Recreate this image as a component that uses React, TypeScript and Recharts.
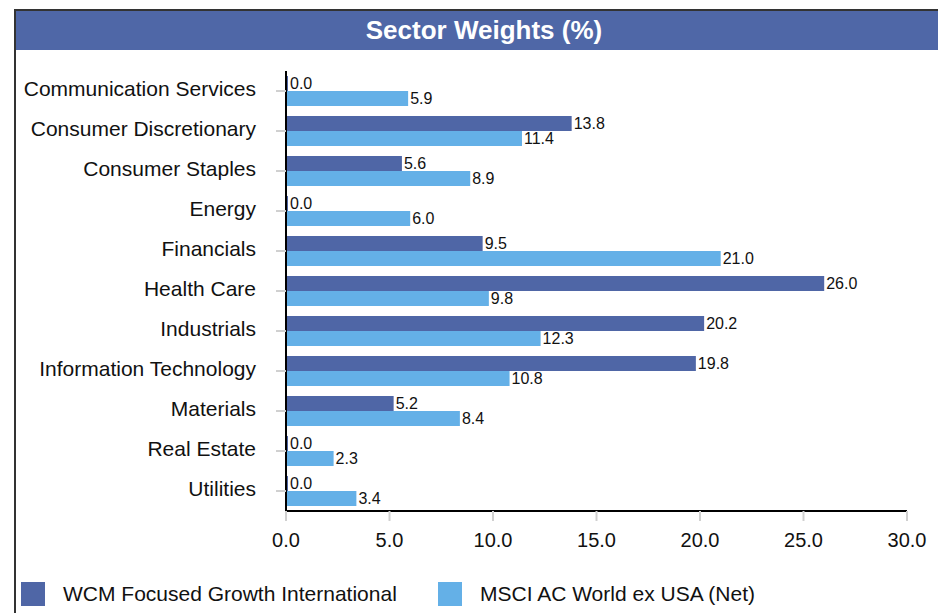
import { BarChart, Bar, XAxis, YAxis, LabelList } from "recharts";

const sectors = [
  "Communication Services",
  "Consumer Discretionary",
  "Consumer Staples",
  "Energy",
  "Financials",
  "Health Care",
  "Industrials",
  "Information Technology",
  "Materials",
  "Real Estate",
  "Utilities",
];

const fundWeights = [0.0, 13.8, 5.6, 0.0, 9.5, 26.0, 20.2, 19.8, 5.2, 0.0, 0.0];
const benchWeights = [5.9, 11.4, 8.9, 6.0, 21.0, 9.8, 12.3, 10.8, 8.4, 2.3, 3.4];

const xTicks = [0, 5, 10, 15, 20, 25, 30];

const series = [
  { key: "fund", name: "WCM Focused Growth International", color: "#4F66A6" },
  { key: "bench", name: "MSCI AC World ex USA (Net)", color: "#64B0E7" },
];

const data = sectors.map((s, i) => ({
  sector: s,
  fund: fundWeights[i],
  bench: benchWeights[i],
}));

const font = "'Liberation Sans', Arial, sans-serif";

export default function App() {
  return (
    <div
      style={{
        position: "absolute",
        left: 0,
        top: 0,
        width: 938,
        height: 613,
        background: "#fff",
        overflow: "hidden",
        fontFamily: font,
      }}
    >
      {/* frame */}
      <div
        style={{
          position: "absolute",
          left: 14,
          top: 9,
          width: 940,
          height: 620,
          borderLeft: "2px solid #333",
          borderTop: "2px solid #333",
        }}
      />
      {/* title bar */}
      <div
        style={{
          position: "absolute",
          left: 16,
          top: 11,
          width: 922,
          height: 39,
          background: "#4F67A7",
        }}
      />
      <div
        style={{
          position: "absolute",
          left: 284,
          top: 11,
          width: 400,
          height: 39,
          lineHeight: "39px",
          textAlign: "center",
          color: "#fff",
          fontWeight: "bold",
          fontSize: 26,
        }}
      >
        Sector Weights (%)
      </div>

      <div style={{ position: "absolute", left: 0, top: 0 }}>
        <BarChart
          width={938}
          height={613}
          data={data}
          layout="vertical"
          margin={{ top: 71, right: 31, bottom: 62, left: 0 }}
          barCategoryGap={5}
          barGap={0}
        >
          <XAxis
            type="number"
            domain={[0, 30]}
            ticks={xTicks}
            height={40}
            axisLine={{ stroke: "#000", strokeWidth: 2 }}
            tickLine={{ stroke: "#d0d0d0", strokeWidth: 2 }}
            tickSize={10}
            tickMargin={12}
            tick={{ fill: "#111", fontSize: 20, fontFamily: font }}
            tickFormatter={(v: number) => v.toFixed(1)}
          />
          <YAxis
            type="category"
            dataKey="sector"
            width={286}
            axisLine={{ stroke: "#000", strokeWidth: 2 }}
            tickLine={{ stroke: "#d0d0d0", strokeWidth: 2 }}
            tickSize={10}
            tickMargin={20}
            tick={{ fill: "#111", fontSize: 21, fontFamily: font, dy: -2 }}
            interval={0}
          />
          {series.map((s) => (
            <Bar
              key={s.key}
              dataKey={s.key}
              name={s.name}
              fill={s.color}
              minPointSize={2}
              isAnimationActive={false}
            >
              <LabelList
                dataKey={s.key}
                position="right"
                offset={2}
                fill="#111"
                fontSize={16}
                fontFamily={font}
                formatter={(v: number) => Number(v).toFixed(1)}
              />
            </Bar>
          ))}
        </BarChart>
      </div>

      {/* legend */}
      {series.map((s, i) => (
        <div
          key={s.key}
          style={{
            position: "absolute",
            left: i === 0 ? 21 : 438,
            top: 582,
            display: "flex",
            alignItems: "center",
            height: 24,
          }}
        >
          <div style={{ width: 24, height: 24, background: s.color }} />
          <span
            style={{
              marginLeft: 18,
              fontSize: 21,
              color: "#111",
              whiteSpace: "nowrap",
            }}
          >
            {s.name}
          </span>
        </div>
      ))}
    </div>
  );
}
